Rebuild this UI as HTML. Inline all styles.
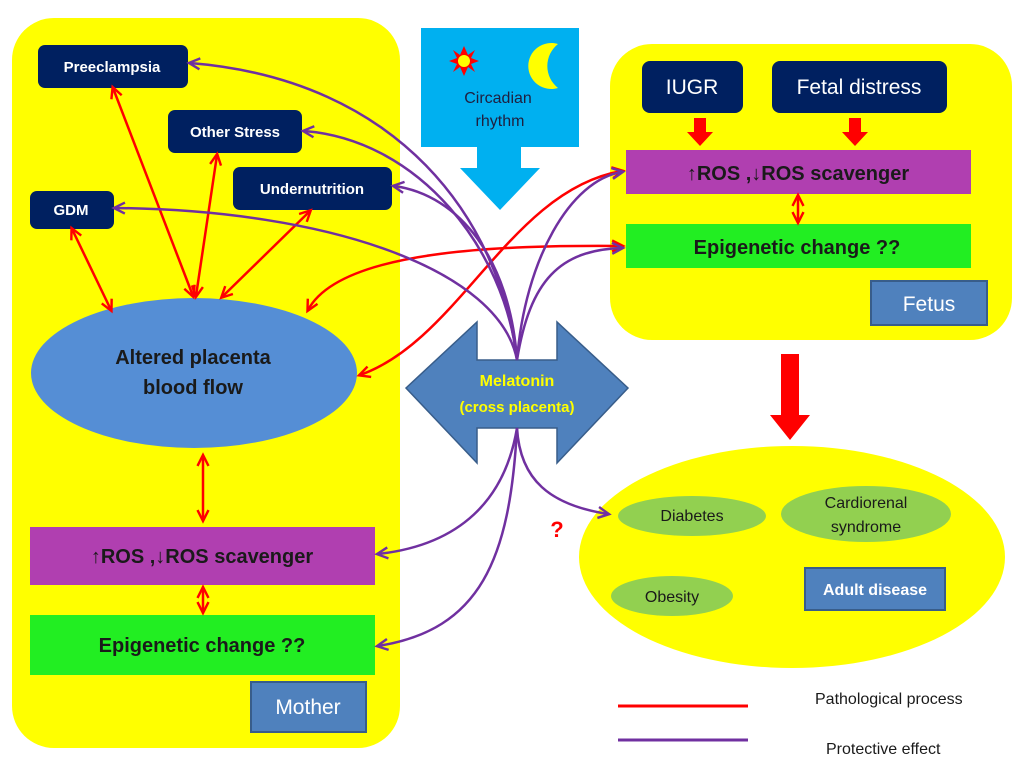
<!DOCTYPE html>
<html><head><meta charset="utf-8"><style>
html,body{margin:0;padding:0;background:#fff;width:1024px;height:769px;overflow:hidden}
svg{display:block}
text{font-family:"Liberation Sans","DejaVu Sans",sans-serif}
</style></head><body>
<svg width="1024" height="769" viewBox="0 0 1024 769" xmlns="http://www.w3.org/2000/svg">
<defs>
<marker id="r" viewBox="0 0 10 10" refX="9" refY="5" markerWidth="11" markerHeight="11" orient="auto-start-reverse" markerUnits="userSpaceOnUse" style="overflow:visible"><path d="M0,0 L10,5 L0,10" fill="none" stroke="#f00" stroke-width="2.2"/></marker>
<marker id="p" viewBox="0 0 10 10" refX="9" refY="5" markerWidth="11" markerHeight="11" orient="auto" markerUnits="userSpaceOnUse" style="overflow:visible"><path d="M0,0 L10,5 L0,10" fill="none" stroke="#7030a0" stroke-width="2.2"/></marker>
</defs>
<rect x="12" y="18" width="388" height="730" rx="42" fill="#ffff00"/>
<rect x="610" y="44" width="402" height="296" rx="42" fill="#ffff00"/>
<ellipse cx="792" cy="557" rx="213" ry="111" fill="#ffff00"/>

<rect x="421" y="28" width="158" height="119" fill="#00b0f0"/>
<polygon points="477,147 521,147 521,168 540,168 500,210 460,168 477,168" fill="#00b0f0"/>
<g transform="translate(464,61)" fill="#ff0000">
<polygon points="0,-15 4,-6 11,-11 7,-3 15,0 7,3 11,11 4,6 0,15 -4,6 -11,11 -7,3 -15,0 -7,-3 -11,-11 -4,-6"/>
<circle r="6" fill="#ffff00"/></g>
<path d="M558,44 A23,23 0 1,0 558,88 A28,28 0 0,1 558,44 Z" fill="#ffff00"/>
<text x="498" y="103" font-size="16" text-anchor="middle" fill="#1f1f3f">Circadian</text>
<text x="500" y="126" font-size="16" text-anchor="middle" fill="#1f1f3f">rhythm</text>

<g fill="#002060">
<rect x="38" y="45" width="150" height="43" rx="7"/>
<rect x="168" y="110" width="134" height="43" rx="7"/>
<rect x="233" y="167" width="159" height="43" rx="7"/>
<rect x="30" y="191" width="84" height="38" rx="7"/>
</g>
<g fill="#fff" font-size="15" font-weight="bold" text-anchor="middle">
<text x="112" y="72">Preeclampsia</text>
<text x="235" y="137">Other Stress</text>
<text x="312" y="194">Undernutrition</text>
<text x="71" y="215">GDM</text>
</g>
<ellipse cx="194" cy="373" rx="163" ry="75" fill="#558ed5"/>
<text x="193" y="364" font-size="20" font-weight="bold" text-anchor="middle" fill="#1a1a1a">Altered placenta</text>
<text x="193" y="394" font-size="20" font-weight="bold" text-anchor="middle" fill="#1a1a1a">blood flow</text>
<rect x="30" y="527" width="345" height="58" fill="#b03fb0"/>
<text x="202" y="563" font-size="20" font-weight="bold" text-anchor="middle" fill="#1a1a1a">↑ROS ,↓ROS scavenger</text>
<rect x="30" y="615" width="345" height="60" fill="#22ee22"/>
<text x="202" y="652" font-size="20" font-weight="bold" text-anchor="middle" fill="#1a1a1a">Epigenetic change ??</text>
<rect x="251" y="682" width="115" height="50" fill="#4f81bd" stroke="#385d8a" stroke-width="2"/>
<text x="308" y="714" font-size="21" text-anchor="middle" fill="#fff">Mother</text>

<rect x="642" y="61" width="101" height="52" rx="8" fill="#002060"/>
<rect x="772" y="61" width="175" height="52" rx="8" fill="#002060"/>
<text x="692" y="94" font-size="21" text-anchor="middle" fill="#fff">IUGR</text>
<text x="859" y="94" font-size="21" text-anchor="middle" fill="#fff">Fetal distress</text>
<polygon points="694,118 706,118 706,132 713,132 700,146 687,132 694,132" fill="#f00"/>
<polygon points="849,118 861,118 861,132 868,132 855,146 842,132 849,132" fill="#f00"/>
<rect x="626" y="150" width="345" height="44" fill="#b03fb0"/>
<text x="798" y="180" font-size="20" font-weight="bold" text-anchor="middle" fill="#1a1a1a">↑ROS ,↓ROS scavenger</text>
<rect x="626" y="224" width="345" height="44" fill="#22ee22"/>
<text x="797" y="254" font-size="20" font-weight="bold" text-anchor="middle" fill="#1a1a1a">Epigenetic change ??</text>
<rect x="871" y="281" width="116" height="44" fill="#4f81bd" stroke="#385d8a" stroke-width="2"/>
<text x="929" y="311" font-size="21" text-anchor="middle" fill="#fff">Fetus</text>
<polygon points="781,354 799,354 799,415 810,415 790,440 770,415 781,415" fill="#f00"/>

<ellipse cx="692" cy="516" rx="74" ry="20" fill="#92d050"/>
<ellipse cx="866" cy="514" rx="85" ry="28" fill="#92d050"/>
<ellipse cx="672" cy="596" rx="61" ry="20" fill="#92d050"/>
<g font-size="16" text-anchor="middle" fill="#1a1a1a">
<text x="692" y="521">Diabetes</text>
<text x="866" y="508">Cardiorenal</text>
<text x="866" y="532">syndrome</text>
<text x="672" y="602">Obesity</text>
</g>
<rect x="805" y="568" width="140" height="42" fill="#4f81bd" stroke="#385d8a" stroke-width="2"/>
<text x="875" y="595" font-size="16" font-weight="bold" text-anchor="middle" fill="#fff">Adult disease</text>
<text x="557" y="537" font-size="22" font-weight="bold" text-anchor="middle" fill="#f00">?</text>

<line x1="618" y1="706" x2="748" y2="706" stroke="#f00" stroke-width="3"/>
<line x1="618" y1="740" x2="748" y2="740" stroke="#7030a0" stroke-width="3"/>
<text x="815" y="704" font-size="16" fill="#1a1a1a">Pathological process</text>
<text x="826" y="754" font-size="16" fill="#1a1a1a">Protective effect</text>

<g stroke="#f00" stroke-width="2.5" fill="none" marker-start="url(#r)" marker-end="url(#r)">
<line x1="113" y1="88" x2="193" y2="296"/>
<line x1="217" y1="155" x2="196" y2="296"/>
<line x1="310" y1="211" x2="222" y2="297"/>
<line x1="72" y1="229" x2="111" y2="310"/>
<line x1="203" y1="456" x2="203" y2="520"/>
<line x1="203" y1="588" x2="203" y2="612"/>
<line x1="798" y1="196" x2="798" y2="222"/>
<path d="M360,375 C460,340 510,190 622,171"/>
<path d="M308,310 C340,250 500,245 622,246"/>
</g>
<polygon points="406,388 477,322 477,360 557,360 557,322 628,388 557,463 557,428 477,428 477,463" fill="#4f81bd" stroke="#385d8a" stroke-width="1.5"/>
<text x="517" y="386" font-size="16" font-weight="bold" text-anchor="middle" fill="#ffff00">Melatonin</text>
<text x="517" y="412" font-size="15" font-weight="bold" text-anchor="middle" fill="#ffff00">(cross placenta)</text>
<g stroke="#7030a0" stroke-width="2.5" fill="none" marker-end="url(#p)">
<path d="M517,360 C500,220 400,80 190,63"/>
<path d="M517,360 C505,250 420,140 304,131"/>
<path d="M517,360 C510,260 460,195 394,186"/>
<path d="M517,360 C500,270 330,210 115,208"/>
<path d="M517,360 C525,260 570,180 622,172"/>
<path d="M517,360 C530,280 560,250 622,248"/>
<path d="M517,428 C520,480 550,505 608,514"/>
<path d="M517,428 C505,500 460,545 378,554"/>
<path d="M517,428 C510,560 480,630 378,646"/>
</g>
</svg>
</body></html>
